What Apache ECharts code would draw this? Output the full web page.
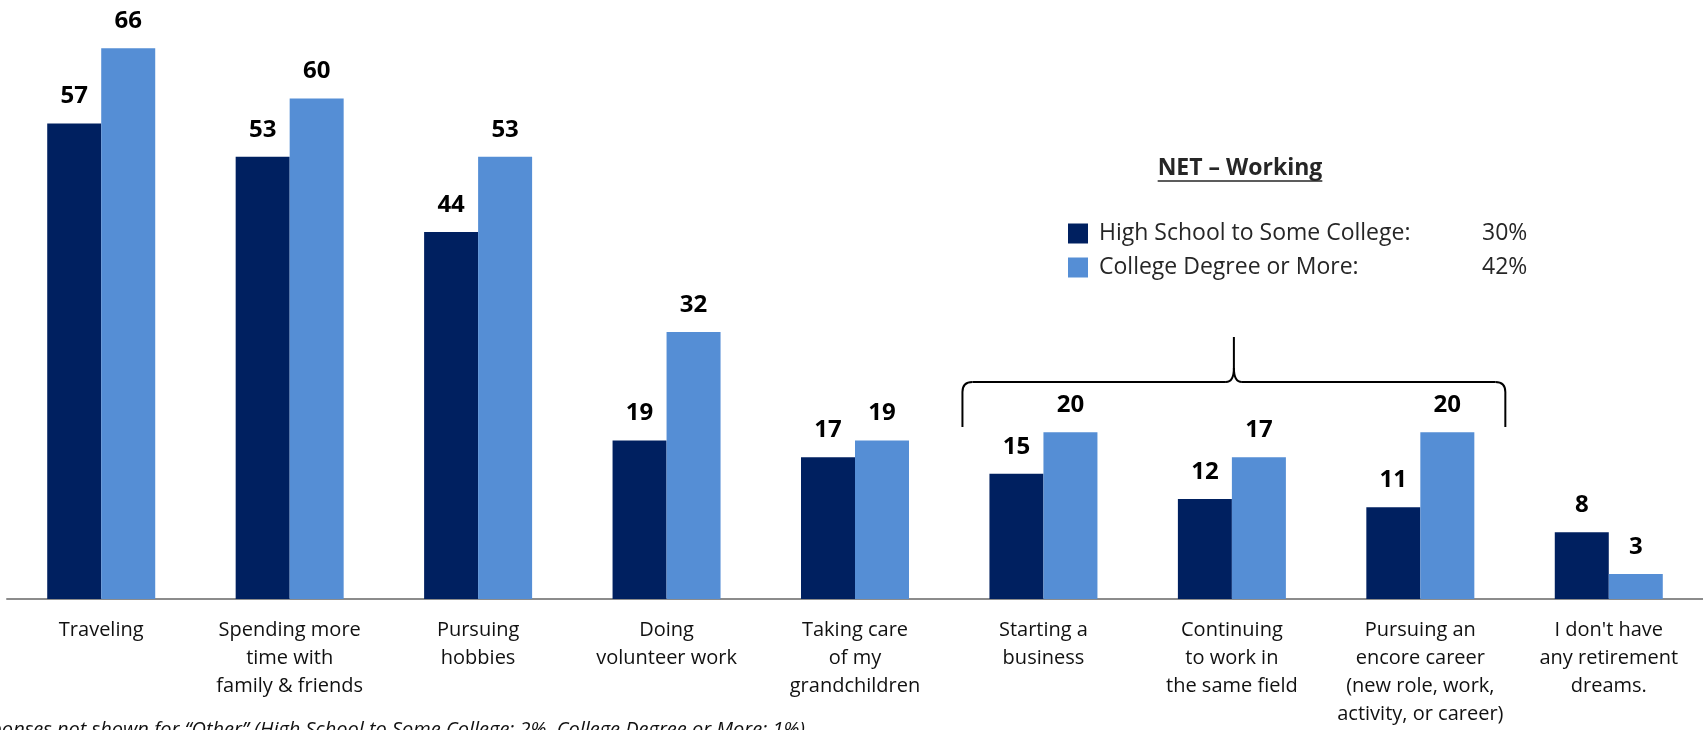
<!DOCTYPE html>
<html>
<head>
<meta charset="utf-8">
<script src="https://cdn.jsdelivr.net/npm/echarts@6/dist/echarts.min.js"></script>
<style>
  html, body { margin: 0; padding: 0; background: #fff; overflow: hidden; }
  #chart { width: 1703px; height: 730px; }
</style>
</head>
<body>
<div id="chart"></div>
<script>
// Retirement dreams by education level (percent of respondents)
const categories = [
  'Traveling',
  'Spending more\ntime with\nfamily & friends',
  'Pursuing\nhobbies',
  'Doing\nvolunteer work',
  'Taking care\nof my\ngrandchildren',
  'Starting a\nbusiness',
  'Continuing\nto work in\nthe same field',
  'Pursuing an\nencore career\n(new role, work,\nactivity, or career)',
  "I don't have\nany retirement\ndreams."
];
const seriesNames = ['High School to Some College', 'College Degree or More'];
const highSchool = [57, 53, 44, 19, 17, 15, 12, 11, 8];
const college = [66, 60, 53, 32, 19, 20, 17, 20, 3];
const netWorking = ['30%', '42%'];
const netTitle = 'NET – Working';
const footnote = 'Responses not shown for “Other” (High School to Some College: 2%, College Degree or More: 1%)';
// working-related categories grouped by the brace
const workingGroup = [5, 7];

const FONT = '"Open Sans", "Liberation Sans", sans-serif';
const DARK = '#002060';
const LIGHT = '#558ED5';

const chart = echarts.init(document.getElementById('chart'), null, { renderer: 'canvas' });

const valueLabel = {
  show: true,
  position: 'top',
  distance: 15,
  color: '#000',
  fontFamily: FONT,
  fontWeight: 'bold',
  fontSize: 24
};

chart.setOption({
  animation: false,
  grid: { left: 7, right: 0, top: 15, bottom: 131, containLabel: false },
  xAxis: {
    type: 'category',
    data: categories,
    axisLine: { show: true, lineStyle: { color: '#8c8c8c', width: 2 } },
    axisTick: { show: false },
    axisLabel: {
      interval: 0,
      margin: 17,
      color: '#111',
      fontFamily: FONT,
      fontSize: 20,
      lineHeight: 28,
      align: 'center'
    }
  },
  yAxis: {
    type: 'value',
    min: 0,
    max: 70,
    show: false,
    splitLine: { show: false }
  },
  legend: {
    orient: 'vertical',
    left: 1068,
    top: 222,
    padding: 0,
    itemWidth: 20,
    itemHeight: 20,
    itemGap: 11,
    icon: 'rect',
    selectedMode: false,
    data: seriesNames,
    formatter: function (name) {
      const i = seriesNames.indexOf(name);
      return '{n|' + name + ':}{p|' + netWorking[i] + '}';
    },
    textStyle: {
      rich: {
        n: { fontFamily: FONT, fontSize: 23, color: '#262626', width: 383, lineHeight: 20, padding: [0, 0, 0, 6] },
        p: { fontFamily: FONT, fontSize: 23, color: '#262626', lineHeight: 20 }
      }
    }
  },
  series: [
    {
      name: seriesNames[0],
      type: 'bar',
      data: highSchool,
      barWidth: 54,
      barGap: '0%',
      itemStyle: { color: DARK },
      label: valueLabel
    },
    {
      name: seriesNames[1],
      type: 'bar',
      data: college,
      barWidth: 54,
      barGap: '0%',
      itemStyle: { color: LIGHT },
      label: valueLabel
    }
  ]
});

// Annotations: brace over the working-related categories, legend heading, footnote
function measure(text, font) {
  const ctx = document.createElement('canvas').getContext('2d');
  ctx.font = font;
  return ctx.measureText(text).width;
}

const x0 = chart.convertToPixel({ xAxisIndex: 0 }, categories[workingGroup[0]]);
const x1 = chart.convertToPixel({ xAxisIndex: 0 }, categories[workingGroup[1]]);
const base = chart.convertToPixel({ yAxisIndex: 0 }, 0);

const bl = x0 - 81;           // brace left end
const br = x1 + 85;           // brace right end
const bc = (bl + br) / 2;     // brace cusp
const yBar = base - 217;      // horizontal stroke
const yEnd = base - 172;      // bottom of the side arms
const yTip = base - 262;      // tip of the cusp
const r = 10;

const braceStyle = { stroke: '#000', lineWidth: 2, fill: null };
const brace = [
  { type: 'line', shape: { x1: bl, y1: yEnd, x2: bl, y2: yBar + r }, style: braceStyle },
  { type: 'bezierCurve', shape: { x1: bl, y1: yBar + r, x2: bl + r, y2: yBar, cpx1: bl, cpy1: yBar }, style: braceStyle },
  { type: 'line', shape: { x1: bl + r, y1: yBar, x2: bc - 8, y2: yBar }, style: braceStyle },
  { type: 'bezierCurve', shape: { x1: bc - 8, y1: yBar, x2: bc, y2: yBar - 14, cpx1: bc, cpy1: yBar }, style: braceStyle },
  { type: 'line', shape: { x1: bc, y1: yBar - 14, x2: bc, y2: yTip }, style: braceStyle },
  { type: 'bezierCurve', shape: { x1: bc, y1: yBar - 14, x2: bc + 8, y2: yBar, cpx1: bc, cpy1: yBar }, style: braceStyle },
  { type: 'line', shape: { x1: bc + 8, y1: yBar, x2: br - r, y2: yBar }, style: braceStyle },
  { type: 'bezierCurve', shape: { x1: br - r, y1: yBar, x2: br, y2: yBar + r, cpx1: br, cpy1: yBar }, style: braceStyle },
  { type: 'line', shape: { x1: br, y1: yBar + r, x2: br, y2: yEnd }, style: braceStyle }
];

const titleFont = 'bold 23px ' + FONT;
const titleW = measure(netTitle, titleFont);
const titleX = 1240;
const titleY = 157;

chart.setOption({
  graphic: brace.concat([
    {
      type: 'text',
      x: titleX,
      y: titleY,
      style: {
        text: netTitle,
        fill: '#262626',
        font: titleFont,
        align: 'center',
        verticalAlign: 'top'
      }
    },
    {
      type: 'line',
      shape: { x1: titleX - titleW / 2, y1: titleY + 24, x2: titleX + titleW / 2, y2: titleY + 24 },
      style: { stroke: '#262626', lineWidth: 1.5 }
    },
    {
      type: 'text',
      x: 805,
      y: 720,
      style: {
        text: footnote,
        fill: '#111',
        font: 'italic 20px ' + FONT,
        align: 'right',
        verticalAlign: 'top'
      }
    }
  ])
});
</script>
</body>
</html>
